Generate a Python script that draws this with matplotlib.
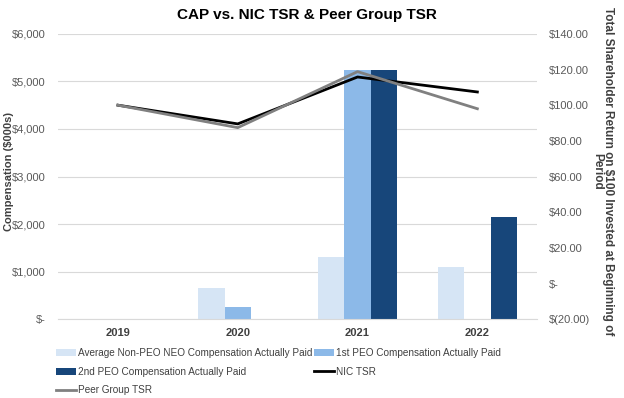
import matplotlib.pyplot as plt
import numpy as np
from matplotlib.ticker import FuncFormatter

years = ["2019", "2020", "2021", "2022"]
non_peo = [0, 650, 1315, 1105]
peo_1st = [0, 255, 5250, 0]
peo_2nd = [0, 0, 5250, 2150]
nic_tsr = [100.0, 89.5, 115.8, 107.4]
peer_tsr = [100.0, 87.4, 118.8, 98.0]

c_light = "#D6E5F5"
c_mid = "#8CB9E8"
c_dark = "#17467A"
txt = "#404040"

plt.rcParams["font.family"] = ["Liberation Sans", "DejaVu Sans"]

fig = plt.figure(figsize=(6.24, 3.98), dpi=100)
ax = fig.add_axes([0.093, 0.198, 0.768, 0.717])
ax2 = ax.twinx()

x = np.arange(len(years))
w = 0.22
b1 = ax.bar(x - w, non_peo, w, color=c_light, label="Average Non-PEO NEO Compensation Actually Paid")
b2 = ax.bar(x, peo_1st, w, color=c_mid, label="1st PEO Compensation Actually Paid")
b3 = ax.bar(x + w, peo_2nd, w, color=c_dark, label="2nd PEO Compensation Actually Paid")

l1, = ax2.plot(x, nic_tsr, color="black", lw=2, label="NIC TSR")
l2, = ax2.plot(x, peer_tsr, color="#808080", lw=2, label="Peer Group TSR")

ax.set_xlim(-0.5, 3.5)
ax.set_ylim(0, 6000)
ax2.set_ylim(-20, 140)
ax.set_yticks(np.arange(0, 6001, 1000))
ax2.set_yticks(np.arange(-20, 141, 20))

def left_fmt(v, p):
    if v == 0:
        return "$-"
    return "${:,.0f}".format(v)

def right_fmt(v, p):
    if v == 0:
        return "$-"
    if v < 0:
        return "$({:.2f})".format(-v)
    return "${:.2f}".format(v)

ax.yaxis.set_major_formatter(FuncFormatter(left_fmt))
ax2.yaxis.set_major_formatter(FuncFormatter(right_fmt))

ax.set_xticks(x)
ax.set_xticklabels(years, fontweight="bold", fontsize=8, color=txt)
ax.tick_params(axis="y", labelsize=8, colors="#595959", length=0, pad=9)
ax2.tick_params(axis="y", labelsize=8, colors="#595959", length=0, pad=8)
ax.tick_params(axis="x", length=0, pad=6)

ax.grid(axis="y", color="#D9D9D9", lw=0.8)
ax.set_axisbelow(True)
for a in (ax, ax2):
    for s in a.spines.values():
        s.set_visible(False)
ax.spines["bottom"].set_visible(True)
ax.spines["bottom"].set_color("#D9D9D9")

fig.text(0.014, 0.57, "Compensation (\\$000s)", fontsize=8, fontweight="bold", color=txt,
         rotation=90, ha="center", va="center")
fig.text(0.966, 0.57, "Total Shareholder Return on \\$100 Invested at Beginning of\nPeriod",
         fontsize=8.5, fontweight="bold", color=txt, rotation=-90, ha="center", va="center",
         linespacing=0.9, multialignment="center")

fig.suptitle("CAP vs. NIC TSR & Peer Group TSR", fontsize=11, fontweight="bold", y=0.98, x=0.492)

handles = [b1, b3, l2, b2, l1]
fig.legend(handles, [h.get_label() for h in handles], ncol=2, loc="upper left",
           bbox_to_anchor=(0.075, 0.148), frameon=False, fontsize=7.2,
           handlelength=2.0, handletextpad=0.2, columnspacing=0.2,
           labelspacing=0.85, labelcolor=txt)

fig.savefig("out.png", dpi=100)
